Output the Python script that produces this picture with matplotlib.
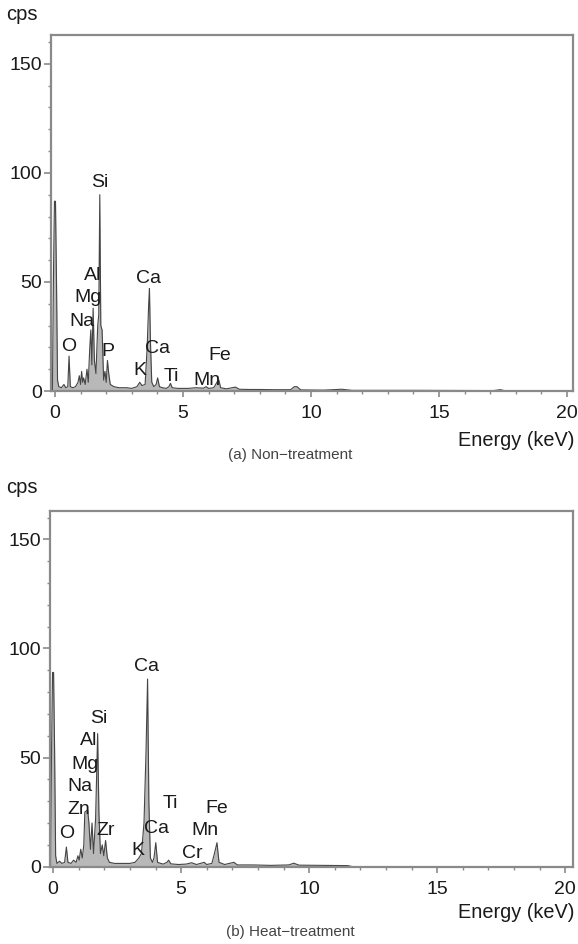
import matplotlib
matplotlib.use("Agg")
import matplotlib.pyplot as plt
from matplotlib.ticker import MultipleLocator

plt.rcParams["font.family"] = ["Liberation Sans", "DejaVu Sans"]

# spectrum (a) non-treatment: outline points (keV, cps)
energy_a = [-0.15, -0.10, -0.06, -0.02, 0.02, 0.06, 0.10, 0.15, 0.25, 0.35, 0.42, 0.50,
            0.55, 0.60, 0.70, 0.80, 0.90, 0.95, 1.00, 1.04, 1.08, 1.12, 1.18, 1.25,
            1.30, 1.36, 1.40, 1.44, 1.49, 1.54, 1.60, 1.67, 1.71, 1.75, 1.79, 1.84,
            1.90, 1.95, 2.00, 2.05, 2.10, 2.16, 2.30, 2.50, 2.80, 3.00, 3.20, 3.31,
            3.40, 3.52, 3.60, 3.66, 3.69, 3.73, 3.78, 3.86, 3.95, 4.01, 4.08, 4.20,
            4.35, 4.45, 4.51, 4.58, 4.80, 5.20, 5.50, 5.80, 5.90, 6.00, 6.20, 6.35,
            6.40, 6.47, 6.70, 7.05, 7.20, 7.60, 8.00, 8.60, 9.20, 9.35, 9.45, 9.60,
            10.5, 11.2, 11.6, 12.5, 14.0, 16.8, 17.0, 17.4, 17.6, 20.3]
counts_a = [0, 0, 52, 87, 87, 50, 5, 2, 1.5, 3, 1.5, 2,
            16, 2, 1.5, 2, 4, 7, 3, 9, 4, 6, 3, 10,
            4, 20, 28, 12, 38, 14, 8, 30, 35, 90, 30, 28,
            5, 9, 4, 14, 8, 3, 2, 1.5, 1.5, 1.2, 2, 4,
            2.5, 3, 20, 40, 47, 22, 4, 2, 3, 6, 2, 1.5,
            1.2, 2, 3.5, 1.5, 1.2, 1.2, 1.5, 1.3, 2, 1.2, 1.5, 4.5,
            5, 1.5, 1, 1.8, 0.8, 0.7, 0.7, 0.6, 0.6, 2, 2, 0.5,
            0.4, 0.8, 0.3, 0.3, 0.3, 0.2, 0, 0.6, 0, 0]

# spectrum (b) heat-treatment
energy_b = [-0.12, -0.10, -0.06, -0.02, 0.02, 0.06, 0.10, 0.15, 0.25, 0.35, 0.45, 0.52,
            0.58, 0.70, 0.80, 0.90, 0.97, 1.02, 1.08, 1.14, 1.20, 1.24, 1.35, 1.40,
            1.46, 1.52, 1.58, 1.66, 1.74, 1.79, 1.85, 1.92, 1.98, 2.05, 2.12, 2.20,
            2.40, 2.70, 3.00, 3.20, 3.35, 3.45, 3.55, 3.63, 3.69, 3.74, 3.80, 3.88,
            3.94, 4.01, 4.08, 4.20, 4.30, 4.45, 4.51, 4.60, 4.90, 5.20, 5.41, 5.60,
            5.90, 6.00, 6.20, 6.30, 6.40, 6.48, 6.70, 7.06, 7.20, 7.80, 8.50, 9.20,
            9.40, 9.60, 10.5, 11.5, 11.7, 20.3]
counts_b = [0, 0, 53, 89, 89, 53, 5, 1.5, 2.5, 1.5, 2, 9,
            2, 1.5, 3, 2, 5, 3, 8, 4, 10, 25, 26, 20,
            8, 20, 6, 22, 61, 25, 6, 10, 5, 12, 4, 2,
            1.5, 1.5, 1.5, 2, 4, 6, 20, 53, 86, 30, 4, 2,
            4, 11, 2, 1.5, 1.2, 2, 3, 1.3, 1.0, 1.2, 1.8, 1.0,
            2, 1, 1.5, 6, 11, 2, 1, 2, 0.8, 0.8, 0.6, 0.8,
            1.6, 0.7, 0.6, 0.5, 0, 0]

# element labels (text, keV, cps)
labels_a = [("Si", 1.76, 95.4), ("Al", 1.47, 53), ("Mg", 1.30, 43), ("Na", 1.07, 32),
            ("O", 0.52, 20.3), ("P", 2.08, 18), ("Ca", 3.67, 51.7), ("Ca", 4.00, 19.6),
            ("K", 3.32, 9.6), ("Ti", 4.56, 6.6), ("Mn", 5.92, 5), ("Fe", 6.45, 16.5)]
labels_b = [("Ca", 3.66, 91.7), ("Si", 1.77, 68), ("Al", 1.38, 58), ("Mg", 1.25, 46.7),
            ("Na", 1.05, 36.7), ("Zn", 1.02, 26), ("Zr", 2.07, 16.8), ("O", 0.53, 15.3),
            ("K", 3.31, 7.6), ("Ca", 4.02, 17.6), ("Ti", 4.57, 29), ("Cr", 5.42, 6),
            ("Mn", 5.94, 16.8), ("Fe", 6.39, 26.8)]

panels = [
    dict(E=energy_a, C=counts_a, labels=labels_a, rect=[0.0882, 0.5858, 0.9031, 0.3766],
         xlim=(-0.156, 20.23), caption="(a) Non\u2212treatment", cps_y=15, eng_y=440, cap_y=455),
    dict(E=energy_b, C=counts_b, labels=labels_b, rect=[0.0865, 0.0819, 0.9048, 0.3768],
         xlim=(-0.12, 20.3), caption="(b) Heat\u2212treatment", cps_y=488, eng_y=913, cap_y=932),
]

W, H = 578, 944
fig = plt.figure(figsize=(W / 100, H / 100), dpi=100)
spine_col = "#8a8a8a"
txt_col = "#1a1a1a"

for p in panels:
    ax = fig.add_axes(p["rect"])
    ax.fill_between(p["E"], 0, p["C"], color="#b8b8b8", lw=0)
    ax.plot(p["E"], p["C"], color="#444444", lw=0.8)
    for name, e, c in p["labels"]:
        ax.text(e, c, name, ha="center", va="center", fontsize=14, color=txt_col)

    ax.set_xlim(*p["xlim"])
    ax.set_ylim(0, 163)
    ax.xaxis.set_major_locator(MultipleLocator(5))
    ax.xaxis.set_minor_locator(MultipleLocator(1))
    ax.yaxis.set_major_locator(MultipleLocator(50))
    ax.yaxis.set_minor_locator(MultipleLocator(10))
    for s in ax.spines.values():
        s.set_color(spine_col)
        s.set_linewidth(1.6)
    ax.tick_params(axis="both", which="major", direction="out", color=spine_col,
                   width=1.2, labelsize=14, labelcolor=txt_col)
    ax.tick_params(axis="x", which="major", length=4, pad=6)
    ax.tick_params(axis="y", which="major", length=5, pad=1.5)
    ax.tick_params(axis="both", which="minor", direction="out", color=spine_col,
                   width=1.0, length=2.5)

    fig.text(6 / W, 1 - p["cps_y"] / H, "cps", ha="left", va="center",
             fontsize=14.5, color=txt_col)
    fig.text(574 / W, 1 - p["eng_y"] / H, "Energy (keV)", ha="right", va="center",
             fontsize=14.3, color=txt_col)
    fig.text(290 / W, 1 - p["cap_y"] / H, p["caption"], ha="center", va="center",
             fontsize=11, color="#444444")

fig.savefig("out.png", dpi=100)
